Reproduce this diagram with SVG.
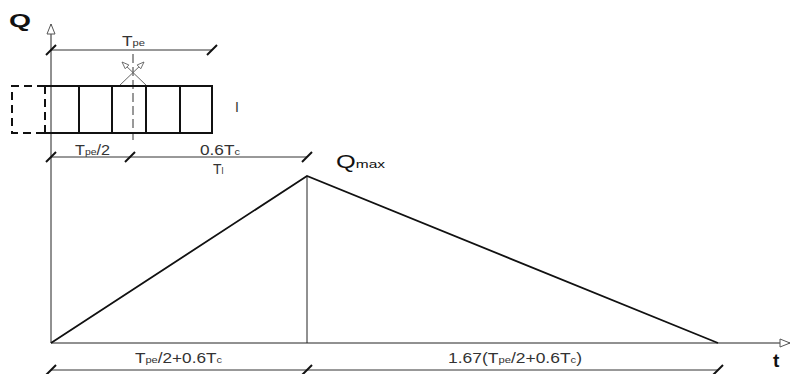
<svg xmlns="http://www.w3.org/2000/svg" width="792" height="374" viewBox="0 0 792 374">
<defs>
<style>
.axis{stroke:#222;stroke-width:1;fill:none}
.dim{stroke:#333;stroke-width:1;fill:none}
.tick{stroke:#111;stroke-width:2;fill:none}
.hyd{stroke:#111;stroke-width:1.8;fill:none}
.box{stroke:#111;stroke-width:2;fill:none}
.dash{stroke:#111;stroke-width:2;fill:none;stroke-dasharray:8,5}
.cl{stroke:#333;stroke-width:1;fill:none;stroke-dasharray:9,4}
.lbl{font-family:"Liberation Sans",Arial,sans-serif;font-size:14px;fill:#333}
.sub{font-size:9px}
.big{font-family:"Liberation Sans",Arial,sans-serif;font-weight:bold;font-size:19px;fill:#111}
</style>
<marker id="open" viewBox="0 0 12 10" refX="11" refY="5" markerWidth="12" markerHeight="10" markerUnits="userSpaceOnUse" orient="auto">
<path d="M1,1 L11,5 L1,9 Z" fill="#fff" stroke="#555" stroke-width="1"/>
</marker>
<marker id="openS" viewBox="0 0 10 8" refX="9" refY="4" markerWidth="9" markerHeight="7" markerUnits="userSpaceOnUse" orient="auto">
<path d="M1,1 L9,4 L1,7 Z" fill="#fff" stroke="#666" stroke-width="1"/>
</marker>
</defs>
<rect width="792" height="374" fill="#fff"/>

<g id="connectors">
<line class="axis" x1="51" y1="343" x2="51" y2="24" marker-end="url(#open)"/>
<line class="axis" x1="51" y1="343" x2="790" y2="343" marker-end="url(#open)"/>
<line class="axis" x1="307" y1="176" x2="307" y2="343"/>
<line class="cl" x1="133" y1="54" x2="133" y2="140"/>
<line x1="147" y1="86" x2="122" y2="62" stroke="#666" stroke-width="1" marker-end="url(#openS)"/>
<line x1="119" y1="86" x2="144" y2="62" stroke="#666" stroke-width="1" marker-end="url(#openS)"/>
</g>

<g id="hydrograph">
<polyline class="hyd" points="51,343 307,176 718,343"/>
</g>

<g id="bays">
<rect class="box" x="45" y="86" width="167" height="47"/>
<line class="box" x1="79" y1="86" x2="79" y2="133"/>
<line class="box" x1="112" y1="86" x2="112" y2="133"/>
<line class="box" x1="146" y1="86" x2="146" y2="133"/>
<line class="box" x1="180" y1="86" x2="180" y2="133"/>
<path class="dash" d="M45,86 H12 V133 H45"/>
<rect x="43" y="88" width="4" height="43" fill="#fff"/>
<line class="dash" x1="45" y1="86" x2="45" y2="133" stroke-dasharray="7,4"/>
<text class="lbl" x="235" y="112">I</text>
</g>

<g id="dim-top">
<line class="dim" x1="51" y1="50" x2="212" y2="50"/>
<line class="tick" x1="46" y1="55" x2="56" y2="45"/>
<line class="tick" x1="207" y1="55" x2="217" y2="45"/>
<text class="lbl" x="122" y="46" textLength="23" lengthAdjust="spacingAndGlyphs">T<tspan class="sub">pe</tspan></text>
</g>

<g id="dim-mid">
<line class="dim" x1="51" y1="157" x2="307" y2="157"/>
<line class="tick" x1="46" y1="162" x2="56" y2="152"/>
<line class="tick" x1="125" y1="162" x2="135" y2="152"/>
<line class="tick" x1="302" y1="162" x2="312" y2="152"/>
<text class="lbl" x="75" y="155" textLength="35" lengthAdjust="spacingAndGlyphs">T<tspan class="sub">pe</tspan>/2</text>
<text class="lbl" x="200" y="155" textLength="40" lengthAdjust="spacingAndGlyphs">0.6T<tspan class="sub">c</tspan></text>
<text class="lbl" x="213" y="174">T<tspan class="sub">l</tspan></text>
</g>

<g id="qmax">
<text x="336" y="168" font-family="Liberation Sans, Arial, sans-serif" font-size="18" fill="#111" textLength="49" lengthAdjust="spacingAndGlyphs">Q<tspan font-size="11">max</tspan></text>
</g>

<g id="dim-bottom">
<line class="dim" x1="51" y1="370" x2="718" y2="370"/>
<line class="tick" x1="46" y1="375" x2="56" y2="365"/>
<line class="tick" x1="302" y1="375" x2="312" y2="365"/>
<line class="tick" x1="713" y1="375" x2="723" y2="365"/>
<text class="lbl" x="135" y="363" textLength="87" lengthAdjust="spacingAndGlyphs">T<tspan class="sub">pe</tspan>/2+0.6T<tspan class="sub">c</tspan></text>
<text class="lbl" x="448" y="363" textLength="134" lengthAdjust="spacingAndGlyphs">1.67(T<tspan class="sub">pe</tspan>/2+0.6T<tspan class="sub">c</tspan>)</text>
</g>

<g id="axis-labels">
<text class="big" x="9" y="27" textLength="22" lengthAdjust="spacingAndGlyphs">Q</text>
<text class="big" x="773" y="367">t</text>
</g>
</svg>
